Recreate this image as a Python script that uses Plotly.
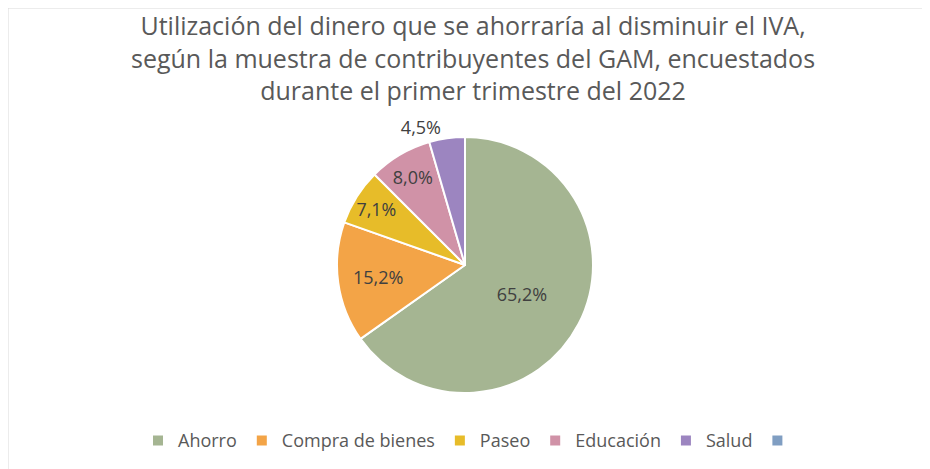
import plotly.graph_objects as go

labels = ["Ahorro", "Compra de bienes", "Paseo", "Educación", "Salud", " "]
values = [65.2, 15.2, 7.1, 8.0, 4.5, 0]
colors = ["#a5b592", "#f3a447", "#e7bc29", "#d092a7", "#9c85c0", "#809ec2"]
positions = ["inside", "inside", "inside", "inside", "outside", "inside"]

W, H = 930, 469
cx, cy, r = 457, 257, 128

fig = go.Figure(go.Pie(
    labels=labels,
    values=values,
    sort=False,
    direction="clockwise",
    rotation=0,
    marker=dict(colors=colors, line=dict(color="white", width=2)),
    texttemplate="%{value:.1f}%",
    textposition=positions,
    insidetextorientation="horizontal",
    textfont=dict(family="Open Sans", size=18, color="#404040"),
    outsidetextfont=dict(family="Open Sans", size=18, color="#404040"),
    domain=dict(x=[(cx - r) / W, (cx + r) / W], y=[(H - cy - r) / H, (H - cy + r) / H]),
    hoverinfo="label+percent",
    automargin=False,
))

fig.update_layout(
    width=W, height=H,
    separators=",.",
    margin=dict(l=0, r=0, t=0, b=0),
    paper_bgcolor="white",
    annotations=[dict(
        text="Utilización del dinero que se ahorraría al disminuir el IVA,<br>según la muestra de contribuyentes del GAM, encuestados<br>durante el primer trimestre del 2022",
        xref="paper", yref="paper", x=0.5, xanchor="center", y=1 + 2 / H, yanchor="top",
        showarrow=False, align="center",
        font=dict(family="Open Sans", size=25, color="#595959"),
    )],
    legend=dict(
        orientation="h", x=0.5, xanchor="center", y=0.038, yanchor="bottom",
        font=dict(family="Open Sans", size=18, color="#595959"),
        traceorder="normal", itemwidth=30,
    ),
    shapes=[dict(type="rect", xref="paper", yref="paper", x0=0, y0=0, x1=1, y1=1,
                 line=dict(color="#d9d9d9", width=1))],
)

fig.write_html("out.html")
